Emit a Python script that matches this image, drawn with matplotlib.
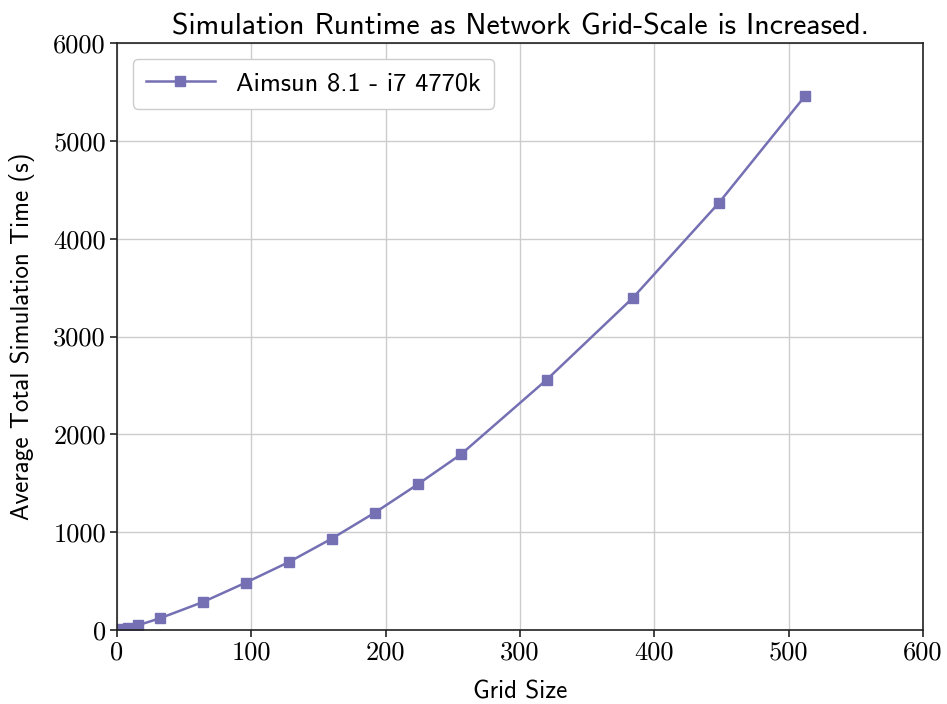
import matplotlib
matplotlib.use('Agg')
import matplotlib.pyplot as plt

grid_size = [4, 8, 16, 32, 64, 96, 128, 160, 192, 224, 256, 320, 384, 448, 512]
runtime = [15, 25, 50, 120, 286, 485, 695, 935, 1200, 1490, 1795, 2560, 3395, 4365, 5455]

plt.rcParams['font.family'] = ['cmss10', 'DejaVu Sans']
plt.rcParams['axes.formatter.use_mathtext'] = True
plt.rcParams['mathtext.fontset'] = 'cm'

fig = plt.figure(figsize=(9.47, 7.04), dpi=100)
ax = fig.add_axes([117 / 947, 1 - 630 / 704, (923 - 117) / 947, (630 - 43) / 704])

ax.plot(grid_size, runtime, color='#7570b3', marker='s', markersize=7,
        linewidth=1.8, label='Aimsun 8.1 - i7 4770k')

ax.set_xlim(0, 600)
ax.set_ylim(0, 6000)
ax.set_xticks(range(0, 601, 100))
ax.set_yticks(range(0, 6001, 1000))
ax.set_xticklabels([str(v) for v in range(0, 601, 100)], family='cmr10', fontsize=19)
ax.set_yticklabels([str(v) for v in range(0, 6001, 1000)], family='cmr10', fontsize=19)
ax.grid(True, color='#cccccc', linewidth=1)
ax.set_axisbelow(True)
for s in ax.spines.values():
    s.set_color('#222222')
    s.set_linewidth(1.2)
ax.tick_params(length=5, width=1.2, color='#222222', pad=3)

ax.set_title('Simulation Runtime as Network Grid-Scale is Increased.', fontsize=21.5, pad=6)
ax.set_xlabel('Grid Size', fontsize=18, labelpad=11)
ax.set_ylabel('Average Total Simulation Time (s)', fontsize=18, labelpad=13)

ax.legend(loc='upper left', fontsize=19, framealpha=1, edgecolor='#cccccc',
          handlelength=2.6, borderpad=0.5, borderaxespad=0.6)

fig.savefig('out.png', dpi=100)
